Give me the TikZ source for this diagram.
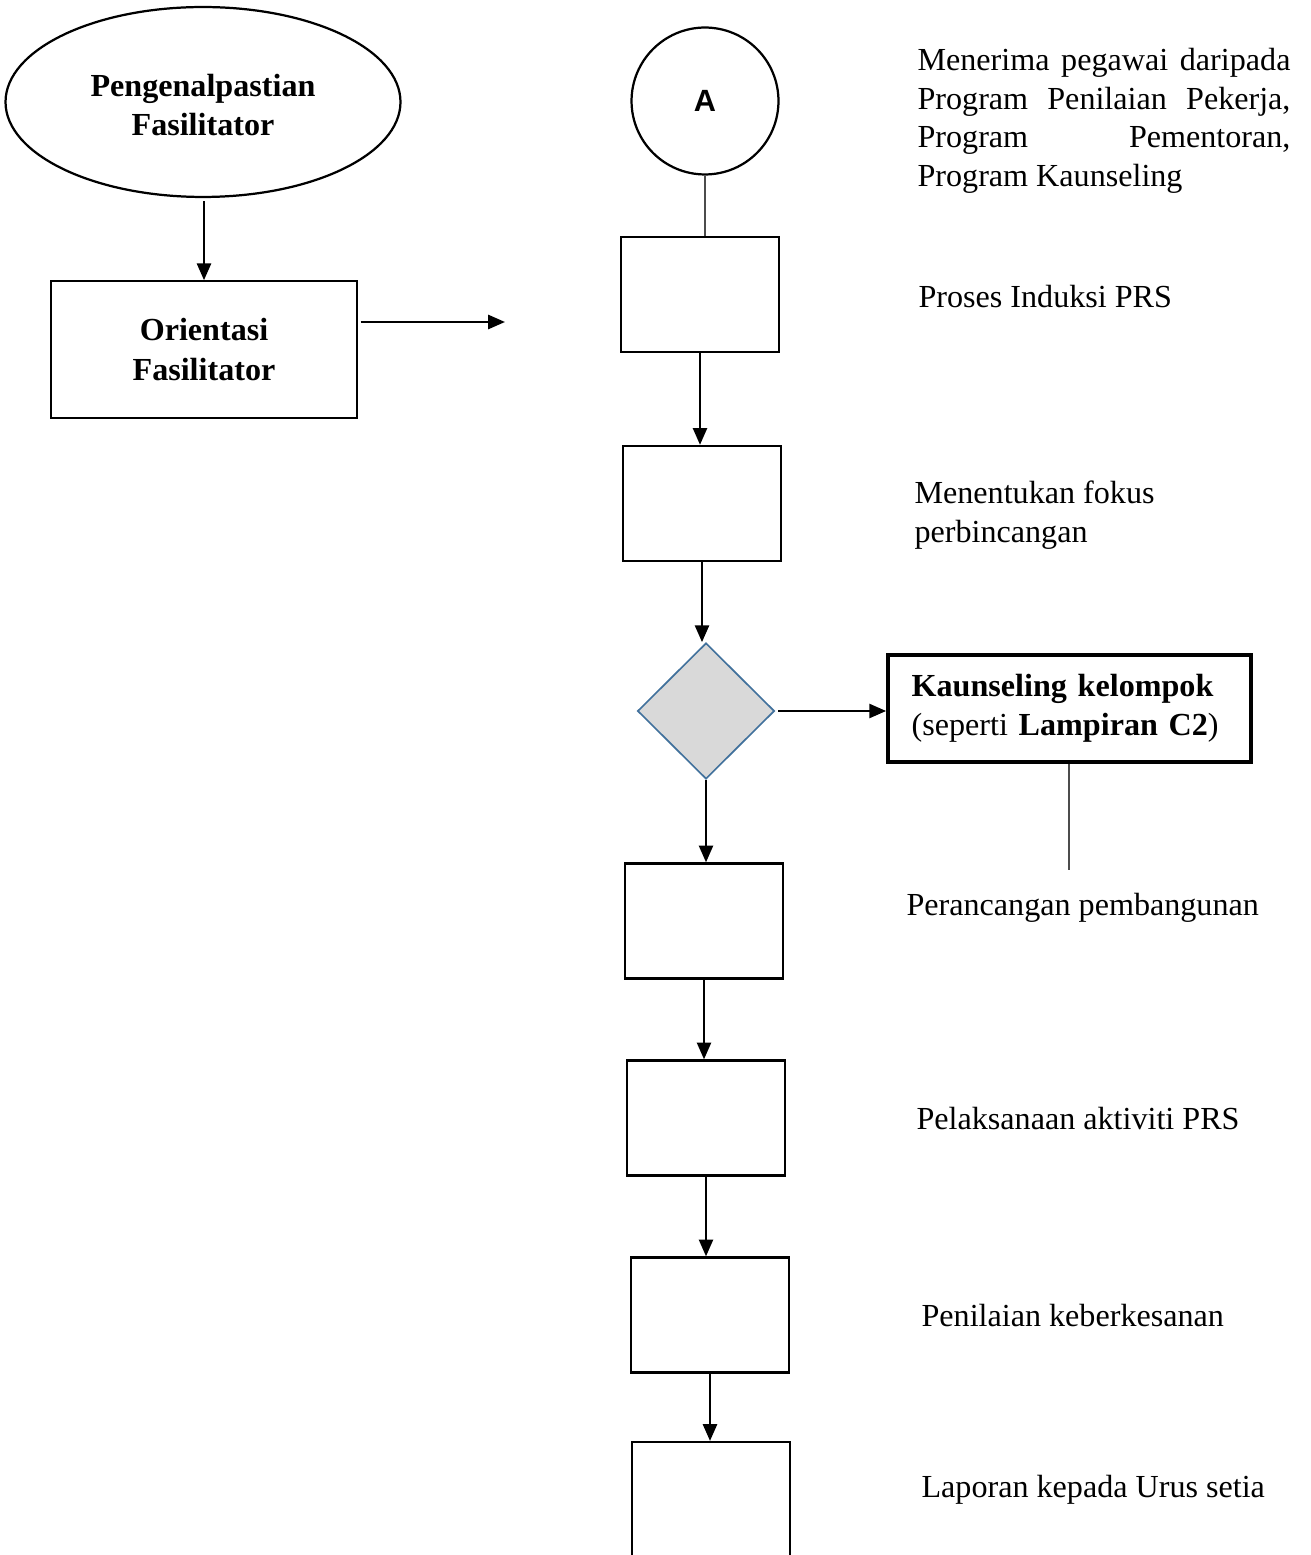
\documentclass[tikz,border=0pt]{standalone}
\usepackage{fontspec}
\setmainfont{Liberation Serif}
\newfontfamily\arialfont{Liberation Sans}
\usetikzlibrary{arrows.meta, shapes.geometric, positioning}
\definecolor{decfill}{HTML}{D9D9D9}
\definecolor{decline}{HTML}{41719C}
\tikzset{
  every node/.style={font=\fontsize{11.5}{13.8}\selectfont},
  stepbox/.style={draw, line width=0.8pt, minimum width=56.6pt, minimum height=41.2pt, inner sep=0pt},
  arr/.style={line width=0.9pt, -{Triangle[length=6pt, width=5pt]}},
  link/.style={draw=black!70, line width=0.4pt},
  note/.style={anchor=west, inner sep=0pt, align=left},
}

\begin{document}
\begin{tikzpicture}[x=0.358pt, y=-0.358pt]

  \useasboundingbox (0,0) rectangle (1310,1555);

  % left column
  \node[draw, ellipse, line width=0.8pt, minimum width=141.4pt, minimum height=68pt,
        inner sep=0pt, align=center, font=\fontsize{11.5}{14}\selectfont\bfseries]
        (ell) at (203,102) {\rule{0pt}{10pt}Pengenalpastian\\Fasilitator};
  \node[draw, line width=0.6pt, minimum width=109.5pt, minimum height=49pt, inner sep=0pt,
        align=center, font=\fontsize{11.5}{14.3}\selectfont\bfseries]
        (ori) at (204,349.5) {Orientasi\\Fasilitator};
  \coordinate (oriend) at (505,322);

  \draw[arr] (ell.south -| ori.north) ++(0,3) -- (ori.north);
  \draw[arr, shorten <=1pt] (oriend -| ori.east) -- (oriend);

  % main column
  \node[draw, circle, line width=0.8pt, minimum size=52.6pt, inner sep=0pt,
        font=\arialfont\bfseries\fontsize{11}{13}\selectfont] (A) at (705,101) {A};
  \node[stepbox] (b1) at (700,294.5) {};
  \node[stepbox] (b2) at (702,503.5) {};
  \node[draw=decline, fill=decfill, diamond, line width=0.6pt, minimum width=49pt,
        minimum height=48.7pt, inner sep=0pt] (dia) at (706,711) {};
  \node[stepbox] (b3) at (704,921) {};
  \node[stepbox] (b4) at (706,1118) {};
  \node[stepbox] (b5) at (710,1315) {};
  \node[stepbox, minimum height=46.5pt] (b6) at (711,1507) {};

  \draw[link] (A.south) -- (A.south |- b1.north);
  \draw[arr] (b1.south) -- (b1.south |- b2.north);
  \draw[arr] (b2.south) -- (b2.south |- dia.north);
  \draw[arr] (dia.south) -- (dia.south |- b3.north);
  \draw[arr] (b3.south) -- (b3.south |- b4.north);
  \draw[arr] (b4.south) -- (b4.south |- b5.north);
  \draw[arr] (b5.south) -- (b5.south |- b6.north);

  % side branch
  \node[draw, line width=1.3pt, minimum width=130pt, minimum height=38.3pt, inner sep=0pt,
        text width=113pt, align=left] (kaun) at (1069.5,708.5)
        {\textbf{Kaunseling kelompok}\\(seperti \textbf{Lampiran C2})};
  \coordinate (kaunend) at (1069,870);
  \draw[arr, shorten <=1pt] (dia.east) -- (dia.east -| kaun.west);
  \draw[link] (kaun.south -| kaunend) -- (kaunend);

  % descriptions
  \node[note] (t0) at (917,121) {%
    \makebox[133.5pt][l]{Menerima\hfill pegawai\hfill daripada}\\
    \makebox[133.5pt][l]{Program\hfill Penilaian\hfill Pekerja,}\\
    \makebox[133.5pt][l]{Program\hfill Pementoran,}\\
    Program Kaunseling};
  \node[note] (t1) at (918,297) {Proses Induksi PRS};
  \node[note] (t2) at (914,515) {Menentukan fokus\\perbincangan};
  \node[note] (t3) at (906,908) {Perancangan pembangunan};
  \node[note] (t4) at (916,1119) {Pelaksanaan aktiviti PRS};
  \node[note] (t5) at (921,1315) {Penilaian keberkesanan};
  \node[note] (t6) at (921,1490) {Laporan kepada Urus setia};

\end{tikzpicture}
\end{document}
